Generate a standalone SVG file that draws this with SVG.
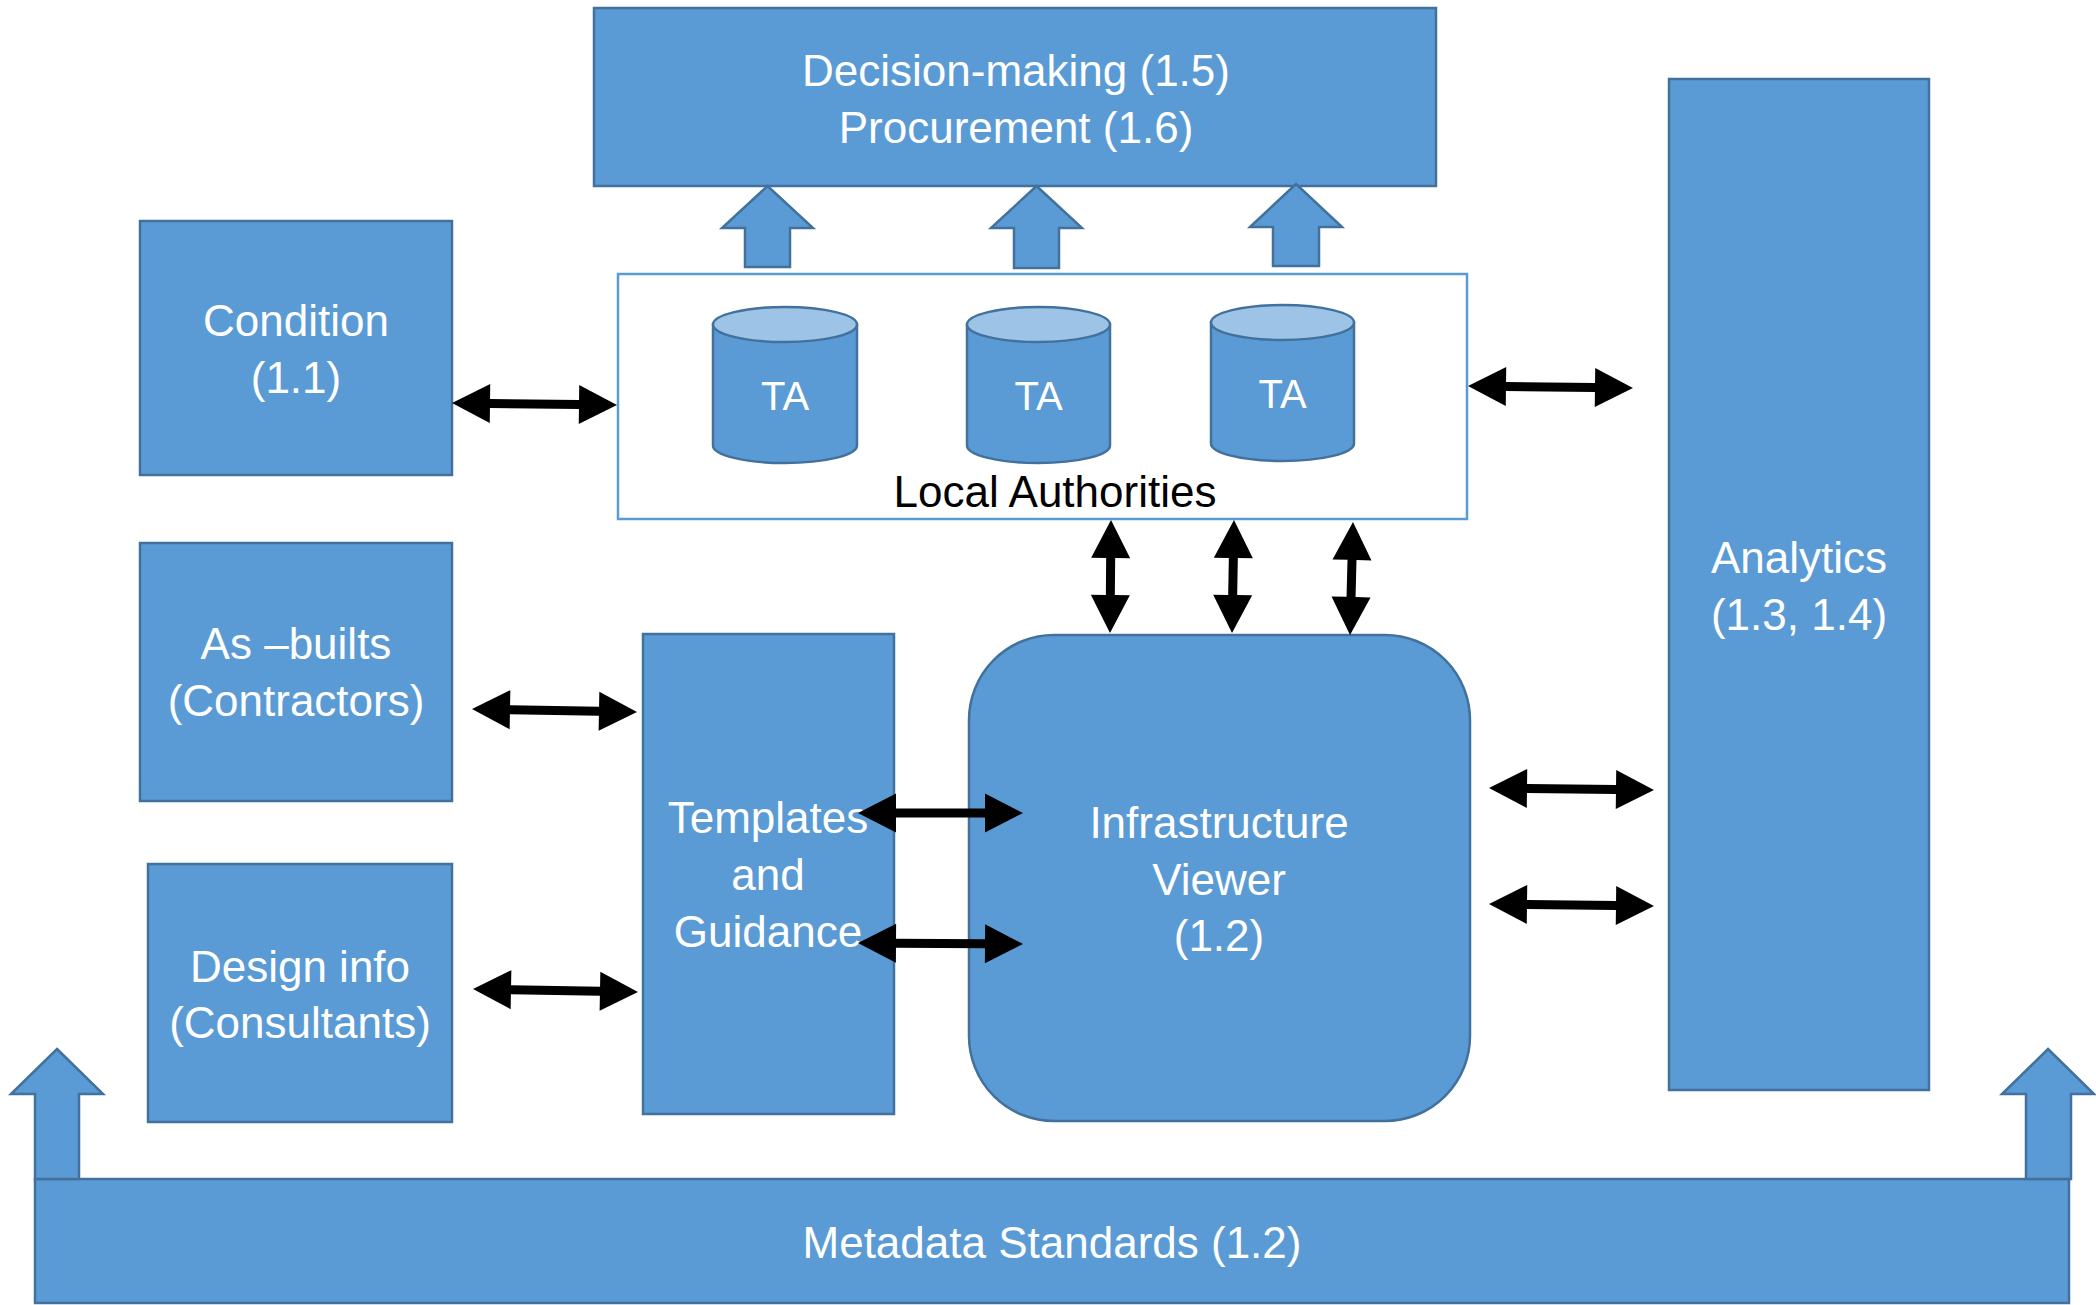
<svg xmlns="http://www.w3.org/2000/svg" width="2096" height="1305" viewBox="0 0 2096 1305">
<style>
.box{fill:#5B9BD5;stroke:#41719C;stroke-width:2.5}
.la{fill:#FFFFFF;stroke:#5B9BD5;stroke-width:2.5}
.cyl{fill:#5B9BD5;stroke:#41719C;stroke-width:2.5}
.cyltop{fill:#9DC3E6;stroke:#41719C;stroke-width:2.5}
.t{font-family:"Liberation Sans",Arial,sans-serif;font-size:44px;fill:#FFFFFF;text-anchor:middle}
.ta{font-size:40px}
.dark{fill:#000000}
.dbl{fill:#000000}
</style>
<defs>
<polygon id="dblh" class="dbl" points="0,0 38,-19.5 38,-4.5 127,-4.5 127,-19.5 165,0 127,19.5 127,4.5 38,4.5 38,19.5"/>
<polygon id="dblv" class="dbl" points="0,0 38,-19.5 38,-4.5 75,-4.5 75,-19.5 113,0 75,19.5 75,4.5 38,4.5 38,19.5"/>
</defs>

<g id="metadata">
<rect class="box" x="35" y="1179" width="2034" height="124"/>
<text class="t" x="1052" y="1258">Metadata Standards (1.2)</text>
</g>

<g id="decision">
<rect class="box" x="594" y="8" width="842" height="178"/>
<text class="t" x="1016" y="86">Decision-making (1.5)</text>
<text class="t" x="1016" y="143">Procurement (1.6)</text>
</g>

<g id="local-authorities">
<rect class="la" x="618" y="274" width="849" height="245"/>
<g id="ta1">
<path class="cyl" d="M713,324.5 L713,445.5 A72,17.5 0 0 0 857,445.5 L857,324.5 Z"/>
<ellipse class="cyltop" cx="785" cy="324.5" rx="72" ry="17.5"/>
<text class="t ta" x="785" y="410">TA</text>
</g>
<g id="ta2">
<path class="cyl" d="M967,324.5 L967,445.5 A71.5,17.5 0 0 0 1110,445.5 L1110,324.5 Z"/>
<ellipse class="cyltop" cx="1038.5" cy="324.5" rx="71.5" ry="17.5"/>
<text class="t ta" x="1038.5" y="410">TA</text>
</g>
<g id="ta3">
<path class="cyl" d="M1211,322.5 L1211,443.5 A71.5,17.5 0 0 0 1354,443.5 L1354,322.5 Z"/>
<ellipse class="cyltop" cx="1282.5" cy="322.5" rx="71.5" ry="17.5"/>
<text class="t ta" x="1282.5" y="408">TA</text>
</g>
<text class="t dark" x="1055" y="507">Local Authorities</text>
</g>

<g id="condition">
<rect class="box" x="140" y="221" width="312" height="254"/>
<text class="t" x="296" y="336">Condition</text>
<text class="t" x="296" y="393">(1.1)</text>
</g>

<g id="as-builts">
<rect class="box" x="140" y="543" width="312" height="258"/>
<text class="t" x="296" y="659">As –builts</text>
<text class="t" x="296" y="716">(Contractors)</text>
</g>

<g id="design-info">
<rect class="box" x="148" y="864" width="304" height="258"/>
<text class="t" x="300" y="982">Design info</text>
<text class="t" x="300" y="1038">(Consultants)</text>
</g>

<g id="templates">
<rect class="box" x="643" y="634" width="251" height="480"/>
<text class="t" x="768" y="833">Templates</text>
<text class="t" x="768" y="890">and</text>
<text class="t" x="768" y="947">Guidance</text>
</g>

<g id="infrastructure-viewer">
<rect class="box" x="969" y="635" width="501" height="486" rx="85" ry="85"/>
<text class="t" x="1219" y="838">Infrastructure</text>
<text class="t" x="1219" y="895">Viewer</text>
<text class="t" x="1219" y="951">(1.2)</text>
</g>

<g id="analytics">
<rect class="box" x="1669" y="79" width="260" height="1011"/>
<text class="t" x="1799" y="573">Analytics</text>
<text class="t" x="1799" y="630">(1.3, 1.4)</text>
</g>

<g id="connectors">
<polygon class="box" points="767.5,186 813,228 790,228 790,267 745,267 745,228 722,228"/>
<polygon class="box" points="1036.5,186 1082,228 1059,228 1059,268 1014,268 1014,228 991,228"/>
<polygon class="box" points="1296,184 1342,227 1319,227 1319,266 1273,266 1273,227 1250,227"/>
<polygon class="box" points="57,1049 103,1094 79,1094 79,1179 35,1179 35,1094 11,1094"/>
<polygon class="box" points="2048,1049 2094,1094 2071,1094 2071,1179 2026,1179 2026,1094 2002,1094"/>
<use href="#dblh" transform="translate(452,403) rotate(0.69)"/>
<use href="#dblh" transform="translate(1468,386) rotate(0.69)"/>
<use href="#dblh" transform="translate(472,709) rotate(1.04)"/>
<use href="#dblh" transform="translate(473,989) rotate(1.04)"/>
<use href="#dblh" transform="translate(858,813)"/>
<use href="#dblh" transform="translate(858,943) rotate(0.35)"/>
<use href="#dblh" transform="translate(1489,788) rotate(0.69)"/>
<use href="#dblh" transform="translate(1489,904) rotate(0.69)"/>
<use href="#dblv" transform="translate(1111,520) rotate(90.5)"/>
<use href="#dblv" transform="translate(1234,520) rotate(91)"/>
<use href="#dblv" transform="translate(1353,522) rotate(91.5)"/>
</g>
</svg>
